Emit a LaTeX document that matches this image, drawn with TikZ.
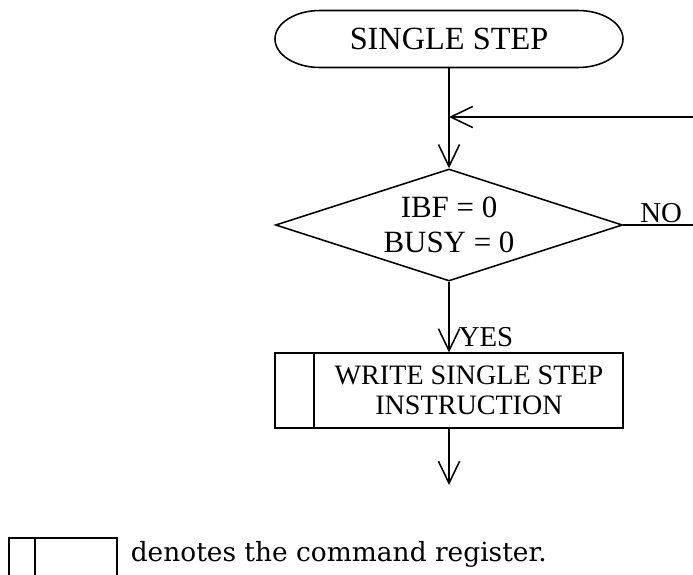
\documentclass[tikz,border=0pt]{standalone}
\usepackage{fontspec}
\setmainfont{Liberation Serif}
\newfontfamily\legfont{DejaVu Serif}
\usepackage{tikz}
\usetikzlibrary{arrows.meta,positioning,shapes.geometric,shapes.misc,calc}
\tikzset{
  term/.style={minimum width=8.7cm,minimum height=1.425cm,outer sep=0pt,font=\fontsize{23}{28}\selectfont},
  decis/.style={draw,diamond,aspect=3.1,inner sep=0pt,minimum width=8.675cm,minimum height=2.8cm,align=center,font=\fontsize{22}{25}\selectfont},
  cmdbox/.style={draw,minimum width=8.7cm,minimum height=1.875cm},
  lab/.style={font=\fontsize{20.5}{24}\selectfont,inner sep=0pt},
  arr/.style={-{Straight Barb[length=5.5mm,width=5.3mm]}},
}
\begin{document}
\begin{tikzpicture}[line width=1.1pt]
\useasboundingbox (0,0) rectangle (17.325,-14.35);
\node[term] (start) at (11.225,-0.975) {SINGLE STEP};
\draw ($(start.north west)+(1.125,0)$) -- ($(start.north east)-(1.125,0)$)
  arc[start angle=90,end angle=-90,x radius=1.125cm,y radius=0.7125cm]
  -- ($(start.south west)+(1.125,0)$)
  arc[start angle=270,end angle=90,x radius=1.125cm,y radius=0.7125cm] -- cycle;
\coordinate (join) at (11.225,-2.925);
\coordinate (back) at (17.325,-2.925);
\node[decis] (dec) at (11.225,-5.625) {IBF = 0\\BUSY = 0};
\coordinate (noend) at (17.325,-5.625);
\node[cmdbox] (wr) at (11.225,-9.768) {};
\draw ([xshift=1cm]wr.north west) -- ([xshift=1cm]wr.south west);
\node[align=center,font=\fontsize{20}{21.3}\selectfont] (wrt) at (11.725,-9.768) {WRITE SINGLE STEP\\INSTRUCTION};
\coordinate (out) at (11.225,-12.125);
\node[lab] (yes) at (12.15,-8.425) {YES};
\node[lab] (no) at (16.53,-5.325) {NO};
% connectors
\draw (start) -- (join);
\draw[arr] (join) -- (dec);
\draw[arr] (back) -- (join);
\draw (dec.east) -- (noend);
\draw[arr] (dec) -- (wr);
\draw[arr] (wr) -- (out);
% legend
\node[draw,minimum width=2.7cm,minimum height=1cm,anchor=north west] (leg) at (0.2,-13.425) {};
\draw ([xshift=0.675cm]leg.north west) -- ([xshift=0.675cm]leg.south west);
\node[anchor=west,inner sep=0pt,font=\legfont\fontsize{18.8}{22}\selectfont] (legt) at (3.25,-13.85) {denotes the command register.};
\end{tikzpicture}
\end{document}
